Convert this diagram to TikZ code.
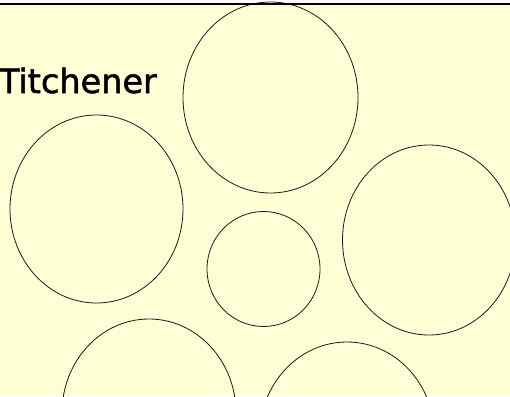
\documentclass[tikz,border=0pt]{standalone}
\usepackage{fontspec}
\newfontfamily\labelfont[FakeBold=1.6]{DejaVu Sans}
\definecolor{bgyellow}{HTML}{FFFFD6}
\tikzset{
  bubble/.style={draw=black!90, line width=0.8pt},
  topline/.style={draw=black, line width=1.6pt},
}
\begin{document}
\begin{tikzpicture}[x=1pt,y=-1pt]
\useasboundingbox (0,0) rectangle (510,396);
\begin{scope}
\clip (0,0) rectangle (510,396);
\fill[bgyellow] (0,0) rectangle (510,396);
\fill[white] (0,0) rectangle (510,3.6);
\draw[bubble] (270.5,97.5) ellipse [x radius=87.5, y radius=95.5];
\draw[bubble] (96.5,209) ellipse [x radius=86.5, y radius=94];
\draw[bubble] (263.5,269) ellipse [x radius=56.5, y radius=57.5];
\draw[bubble] (429,240) ellipse [x radius=86.5, y radius=95];
\draw[bubble] (149,413) ellipse [x radius=87, y radius=94];
\draw[bubble] (347,436) ellipse [x radius=87.5, y radius=94];
\draw[topline] (0,4.3) -- (510,4.3);
\node[anchor=base east, inner sep=0pt, font=\labelfont\fontsize{33.5}{36}\selectfont] (title) at (157,93) {Titchener};
\end{scope}
\end{tikzpicture}
\end{document}
